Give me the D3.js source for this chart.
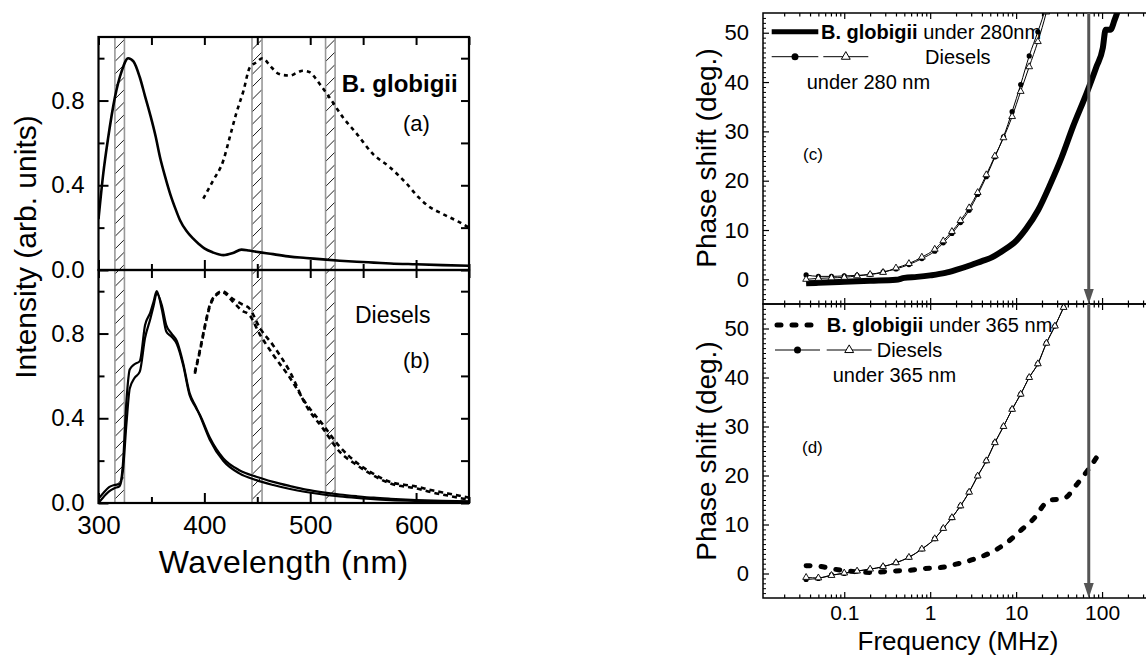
<!DOCTYPE html>
<html>
<head>
<meta charset="utf-8">
<script src="https://cdn.jsdelivr.net/npm/d3@7"></script>
<style>
  body { margin: 0; background: #fff; }
  svg { display: block; font-family: "Liberation Sans", Arial, sans-serif; }
</style>
</head>
<body>
<script>
'use strict';

// ---- (a) B. globigii spectra ----
var wlA = [300, 304.5, 309, 315.5, 322, 328, 333, 339, 344, 349, 354, 358, 363, 368, 373, 377, 383, 389, 395, 400, 408, 418, 427, 435, 442, 449, 465, 481, 496, 512, 528, 544, 560, 576, 600, 625, 650];
var intA = [0.24, 0.455, 0.62, 0.815, 0.94, 1.0, 0.985, 0.91, 0.82, 0.73, 0.63, 0.535, 0.44, 0.355, 0.285, 0.235, 0.185, 0.15, 0.122, 0.102, 0.083, 0.07, 0.08, 0.096, 0.092, 0.086, 0.075, 0.063, 0.057, 0.05, 0.044, 0.039, 0.035, 0.031, 0.027, 0.023, 0.02];
var wlAdash = [399, 408, 418, 424, 430, 437, 443, 449, 455, 462, 468, 475, 481, 487, 493, 500, 505, 509, 518, 531, 544, 559, 575, 591, 602, 612, 625, 640, 650];
var intAdash = [0.337, 0.42, 0.518, 0.627, 0.737, 0.847, 0.957, 0.98, 1.0, 0.965, 0.933, 0.92, 0.918, 0.93, 0.941, 0.933, 0.905, 0.878, 0.816, 0.72, 0.643, 0.549, 0.486, 0.408, 0.345, 0.3, 0.265, 0.228, 0.2];

// ---- (b) Diesels spectra ----
var wlB = [300, 305, 310, 315, 320, 323, 326.5, 329.5, 334, 339, 344, 349, 352, 355, 360, 364, 369, 374, 380, 386, 392, 396, 405, 418, 433, 449, 465, 481, 496, 512, 528, 544, 560, 576, 600, 625, 650];
var intB1 = [0.02, 0.05, 0.075, 0.085, 0.09, 0.18, 0.49, 0.63, 0.655, 0.67, 0.84, 0.9, 0.95, 1.0, 0.91, 0.81, 0.785, 0.75, 0.65, 0.51, 0.45, 0.414, 0.31, 0.21, 0.155, 0.124, 0.1, 0.08, 0.063, 0.05, 0.04, 0.032, 0.025, 0.02, 0.014, 0.01, 0.008];
var intB2 = [0.0, 0.03, 0.055, 0.07, 0.08, 0.15, 0.38, 0.54, 0.59, 0.62, 0.78, 0.87, 0.93, 0.99, 0.93, 0.84, 0.8, 0.765, 0.66, 0.52, 0.455, 0.41, 0.3, 0.198, 0.14, 0.108, 0.085, 0.066, 0.052, 0.04, 0.031, 0.024, 0.018, 0.014, 0.01, 0.007, 0.005];
var wlBdash = [391, 396, 400.5, 405, 411, 417, 427, 435, 443, 452, 465, 481, 496, 512, 528, 544, 559, 575, 600, 615, 630, 650];
var intBdash1 = [0.618, 0.728, 0.838, 0.932, 0.985, 1.0, 0.963, 0.94, 0.916, 0.83, 0.744, 0.618, 0.461, 0.352, 0.241, 0.179, 0.132, 0.093, 0.069, 0.05, 0.035, 0.015];
var intBdash2 = [0.61, 0.72, 0.83, 0.925, 0.98, 0.995, 0.95, 0.91, 0.885, 0.8, 0.7, 0.59, 0.47, 0.37, 0.265, 0.19, 0.14, 0.1, 0.078, 0.06, 0.045, 0.025];

// filter bands (nm)
var bands = [[315.5, 324.5], [445, 454.5], [514.5, 523.5]];
var wlTicks = [300, 400, 500, 600];
var wlMinor = [350, 450, 550, 650];
var intTicks = [0, 0.4, 0.8];
var intMinor = [0.2, 0.6, 1.0];

// ---- (c) phase shift under 280 nm ----
var freqBg280 = [0.036, 0.05, 0.1, 0.2, 0.4, 0.5, 0.7, 1.0, 1.5, 2, 3, 4, 5, 7, 10, 13, 18, 25, 34, 46, 66, 86, 102, 110, 125, 140, 160];
var phaseBg280 = [-0.8, -0.7, -0.5, -0.3, -0.1, 0.3, 0.5, 0.8, 1.3, 1.9, 2.9, 3.7, 4.3, 5.8, 7.8, 10.2, 14.0, 19.3, 24.8, 31.0, 37.7, 43.1, 46.9, 50.6, 50.6, 52.6, 55.5];
var freqDiesel = [0.036, 0.05, 0.071, 0.1, 0.141, 0.2, 0.283, 0.4, 0.566, 0.8, 1.13, 1.42, 1.79, 2.25, 2.84, 3.57, 4.5, 5.66, 7.13, 8.98, 11.3, 14.2, 17.9, 22.5, 28.3, 35.7];
var phaseD280a = [0.9, 0.6, 0.6, 0.7, 0.8, 1.0, 1.5, 2.1, 3.0, 4.2, 5.7, 7.4, 9.3, 11.5, 14.0, 17.2, 20.8, 24.8, 28.9, 34.0, 39.5, 45.3, 50.2, 55.5, 62, 70];
var phaseD280b = [0.0, 0.2, 0.3, 0.4, 0.7, 1.0, 1.4, 2.3, 3.2, 4.5, 6.1, 7.8, 9.7, 11.9, 14.5, 17.6, 21.2, 25.0, 28.7, 33.0, 38.1, 43.1, 48.2, 54.2, 62, 70];

// ---- (d) phase shift under 365 nm ----
var freqBg365 = [0.036, 0.05, 0.07, 0.1, 0.14, 0.22, 0.35, 0.53, 0.83, 1.3, 2.0, 3.2, 4.7, 7.8, 11.5, 17, 21, 25, 35, 52, 71, 100];
var phaseBg365 = [1.6, 1.5, 1.0, 0.6, 0.35, 0.2, 0.5, 0.6, 1.0, 1.2, 1.9, 2.9, 4.0, 6.3, 8.9, 11.7, 14.0, 15.0, 15.2, 18.4, 21.5, 25.4];
var phaseD365a = [-1.2, -1.0, -0.3, 0.0, 0.5, 0.86, 1.4, 2.2, 3.3, 5.0, 7.1, 9.2, 11.4, 13.8, 16.6, 19.9, 23.0, 26.7, 30.0, 33.5, 36.6, 40.0, 42.8, 47.0, 50.5, 54.3];
var phaseD365b = [-0.8, -0.9, -0.4, 0.1, 0.5, 0.9, 1.4, 2.2, 3.3, 5.0, 7.1, 9.2, 11.4, 13.8, 16.6, 19.9, 23.0, 26.7, 30.0, 33.5, 36.6, 40.0, 42.8, 47.0, 50.5, 54.3];

var freqTicks = [0.1, 1, 10, 100];
var freqTickLabels = ['0.1', '1', '10', '100'];
var phaseTicks = [0, 10, 20, 30, 40, 50];
var arrowFreq = 70;

// ---- layout ----
var W = 1146, H = 655;
var svg = d3.select('body').append('svg').attr('width', W).attr('height', H);
var defs = svg.append('defs');

// left panels
var xL = d3.scaleLinear().domain([300, 650]).range([98.5, 469]);
var yA = d3.scaleLinear().domain([0, 1.1]).range([270, 37]);
var yB = d3.scaleLinear().domain([0, 1.1]).range([503, 270]);
// right panels
var xR = d3.scaleLog().domain([0.01134, 1000]).range([763, 1188]);
var yC = d3.scaleLinear().domain([-5, 54]).range([304, 13]);
var yD = d3.scaleLinear().domain([-5, 55]).range([598, 304]);

function addClip(id, x0, y0, x1, y1) {
  defs.append('clipPath').attr('id', id).append('rect')
    .attr('x', x0).attr('y', y0).attr('width', x1 - x0).attr('height', y1 - y0);
}
addClip('clipA', xL(300), yA(1.1), xL(650), yA(0));
addClip('clipB', xL(300), yB(1.1), xL(650), yB(0));
addClip('clipC', 763, yC(54), W, yC(-5));
addClip('clipD', 763, yD(55), W, yD(-5));

function drawLine(g, xs, ys, xs_scale, ys_scale, width, dash, cap) {
  var line = d3.line()
    .x(function(d) { return xs_scale(d[0]); })
    .y(function(d) { return ys_scale(d[1]); })
    .curve(d3.curveMonotoneX);
  return g.append('path')
    .datum(d3.zip(xs, ys))
    .attr('d', line)
    .attr('fill', 'none')
    .attr('stroke', '#000')
    .attr('stroke-width', width)
    .attr('stroke-dasharray', dash || null)
    .attr('stroke-linecap', cap || 'butt')
    .attr('stroke-linejoin', 'round');
}

function text(g, x, y, str, size, anchor, weight) {
  return g.append('text').attr('x', x).attr('y', y).text(str)
    .attr('font-size', size).attr('text-anchor', anchor || 'start')
    .attr('font-weight', weight || 'normal').attr('fill', '#000');
}

function cleanAxis(g, width) {
  g.select('.domain').remove();
  g.selectAll('.tick line').attr('stroke', '#000').attr('stroke-width', width);
  g.attr('font-family', null);
}

// ---- hatched filter bands ----
var bandG = svg.append('g');
bands.forEach(function(b, i) {
  var x0 = xL(b[0]), x1 = xL(b[1]);
  var top = yA(1.1), bot = yB(0);
  defs.append('clipPath').attr('id', 'band' + i).append('rect')
    .attr('x', x0).attr('y', top).attr('width', x1 - x0).attr('height', bot - top);
  bandG.append('g').attr('clip-path', 'url(#band' + i + ')')
    .selectAll('line').data(d3.range(top - 10, bot + 10, 12.5)).enter().append('line')
    .attr('x1', x0).attr('x2', x1)
    .attr('y1', function(d) { return d + (x1 - x0); })
    .attr('y2', function(d) { return d; })
    .attr('stroke', '#000').attr('stroke-width', 0.9);
  bandG.append('rect').attr('x', x0).attr('y', top)
    .attr('width', x1 - x0).attr('height', bot - top)
    .attr('fill', 'none').attr('stroke', '#999').attr('stroke-width', 1.6);
});

// ---- spectra ----
var gA = svg.append('g').attr('clip-path', 'url(#clipA)');
drawLine(gA, wlA, intA, xL, yA, 2.6);
drawLine(gA, wlAdash, intAdash, xL, yA, 2.6, '4,4');

var gB = svg.append('g').attr('clip-path', 'url(#clipB)');
drawLine(gB, wlB, intB1, xL, yB, 2.2);
drawLine(gB, wlB, intB2, xL, yB, 2.2);
drawLine(gB, wlBdash, intBdash1, xL, yB, 2.6, '5,4');
drawLine(gB, wlBdash, intBdash2, xL, yB, 2.6, '5,4');

// left axes
function leftAxes(yS, top) {
  var yb = yS(0), yt = yS(1.1);
  var xa = svg.append('g').attr('transform', 'translate(0,' + yb + ')');
  xa.call(d3.axisBottom(xL).tickValues(wlTicks).tickSize(-10).tickFormat(top ? '' : d3.format('d')).tickPadding(13));
  cleanAxis(xa, 2);
  xa.selectAll('text').attr('font-size', 26).attr('fill', '#000');
  var xm = svg.append('g').attr('transform', 'translate(0,' + yb + ')');
  xm.call(d3.axisBottom(xL).tickValues(wlMinor).tickSize(-6).tickFormat(''));
  cleanAxis(xm, 2);
  var xt = svg.append('g').attr('transform', 'translate(0,' + yt + ')');
  xt.call(d3.axisTop(xL).tickValues(wlTicks.concat(wlMinor)).tickSize(-8).tickFormat(''));
  cleanAxis(xt, 2);

  var ya = svg.append('g').attr('transform', 'translate(' + xL(300) + ',0)');
  ya.call(d3.axisLeft(yS).tickValues(intTicks).tickSize(-10).tickPadding(14).tickFormat(d3.format('.1f')));
  cleanAxis(ya, 2);
  ya.selectAll('text').attr('font-size', 24).attr('fill', '#000');
  var ym = svg.append('g').attr('transform', 'translate(' + xL(300) + ',0)');
  ym.call(d3.axisLeft(yS).tickValues(intMinor).tickSize(-6).tickFormat(''));
  cleanAxis(ym, 2);
  var yr = svg.append('g').attr('transform', 'translate(' + xL(650) + ',0)');
  yr.call(d3.axisRight(yS).tickValues(intTicks.concat(intMinor)).tickSize(-8).tickFormat(''));
  cleanAxis(yr, 2);

  svg.append('rect').attr('x', xL(300)).attr('y', yt)
    .attr('width', xL(650) - xL(300)).attr('height', yb - yt)
    .attr('fill', 'none').attr('stroke', '#000').attr('stroke-width', 2.2);
}
leftAxes(yA, true);
leftAxes(yB, false);

text(svg, 341.7, 92, 'B. globigii', 24, 'start', 'bold');
text(svg, 403, 131, '(a)', 22);
text(svg, 355, 323, 'Diesels', 23);
text(svg, 403, 368, '(b)', 22);
text(svg, xL(475), 573, 'Wavelength (nm)', 32, 'middle').attr('letter-spacing', 0.5);
svg.append('text').attr('transform', 'translate(36,247) rotate(-90)')
  .attr('text-anchor', 'middle').attr('font-size', 30).text('Intensity (arb. units)');

// ---- right panels ----
var minorFreq = [];
[0.01, 0.1, 1, 10, 100].forEach(function(dec) {
  d3.range(2, 10).forEach(function(k) { minorFreq.push(dec * k); });
});
minorFreq = minorFreq.filter(function(f) { return f > xR.domain()[0]; });
var minorPhase = d3.range(-4, 55).filter(function(v) { return v % 10 !== 0; });

function rightAxes(yS, vmax, labels) {
  var yb = yS(-5), yt = yS(vmax);
  [[yb, d3.axisBottom], [yt, d3.axisTop]].forEach(function(p) {
    var g1 = svg.append('g').attr('transform', 'translate(0,' + p[0] + ')');
    g1.call(p[1](xR).tickValues(freqTicks).tickSize(-6).tickFormat(''));
    cleanAxis(g1, 1.2);
    var g2 = svg.append('g').attr('transform', 'translate(0,' + p[0] + ')');
    g2.call(p[1](xR).tickValues(minorFreq).tickSize(-3.5).tickFormat(''));
    cleanAxis(g2, 1.2);
  });
  if (labels) {
    var lg = svg.append('g').attr('transform', 'translate(0,' + yb + ')');
    lg.call(d3.axisBottom(xR).tickValues(freqTicks).tickSize(0).tickPadding(7)
      .tickFormat(function(d, i) { return freqTickLabels[i]; }));
    cleanAxis(lg, 0);
    lg.selectAll('text').attr('font-size', 21).attr('fill', '#000');
  }
  var ya = svg.append('g').attr('transform', 'translate(763,0)');
  ya.call(d3.axisLeft(yS).tickValues(phaseTicks).tickSize(-6).tickPadding(14).tickFormat(d3.format('d')));
  cleanAxis(ya, 1.2);
  ya.selectAll('text').attr('font-size', 22).attr('fill', '#000');
  var ym = svg.append('g').attr('transform', 'translate(763,0)');
  ym.call(d3.axisLeft(yS).tickValues(minorPhase.filter(function(v) { return v < vmax; })).tickSize(-3).tickFormat(''));
  cleanAxis(ym, 1);
  svg.append('rect').attr('x', 763).attr('y', yt)
    .attr('width', 1188 - 763).attr('height', yb - yt)
    .attr('fill', 'none').attr('stroke', '#000').attr('stroke-width', 1.5);
}

function diesel(g, ys, a, b) {
  drawLine(g, freqDiesel, a, xR, ys, 1);
  drawLine(g, freqDiesel, b, xR, ys, 1);
  g.append('g').selectAll('circle').data(d3.zip(freqDiesel, a)).enter().append('circle')
    .attr('cx', function(d) { return xR(d[0]); })
    .attr('cy', function(d) { return ys(d[1]); })
    .attr('r', 2.6).attr('fill', '#000');
  g.append('g').selectAll('path').data(d3.zip(freqDiesel, b)).enter().append('path')
    .attr('d', d3.symbol(d3.symbolTriangle, 20))
    .attr('transform', function(d) { return 'translate(' + xR(d[0]) + ',' + ys(d[1]) + ')'; })
    .attr('fill', '#fff').attr('stroke', '#000').attr('stroke-width', 0.9);
}

function arrow(yTop, yBot) {
  var ax = xR(arrowFreq);
  svg.append('line').attr('x1', ax).attr('x2', ax).attr('y1', yTop).attr('y2', yBot - 12)
    .attr('stroke', '#555').attr('stroke-width', 3);
  svg.append('path')
    .attr('d', 'M' + (ax - 5) + ',' + (yBot - 15) + 'L' + (ax + 5) + ',' + (yBot - 15) + 'L' + ax + ',' + yBot + 'Z')
    .attr('fill', '#555');
}

// legend helpers
function dieselKey(y, x1, x2, x3, x4) {
  svg.append('line').attr('x1', x1).attr('x2', x2).attr('y1', y).attr('y2', y).attr('stroke', '#000').attr('stroke-width', 1);
  svg.append('circle').attr('cx', (x1 + x2) / 2).attr('cy', y).attr('r', 3.5).attr('fill', '#000');
  svg.append('line').attr('x1', x3).attr('x2', x4).attr('y1', y).attr('y2', y).attr('stroke', '#000').attr('stroke-width', 1);
  svg.append('path').attr('d', d3.symbol(d3.symbolTriangle, 34))
    .attr('transform', 'translate(' + (x3 + x4) / 2 + ',' + y + ')')
    .attr('fill', '#fff').attr('stroke', '#000').attr('stroke-width', 1);
}
function bgText(x, y, rest) {
  var t = svg.append('text').attr('x', x).attr('y', y).attr('font-size', 20);
  t.append('tspan').attr('font-weight', 'bold').text('B. globigii');
  t.append('tspan').text(rest);
}

// (c)
svg.append('line').attr('x1', 771.7).attr('x2', 818.3).attr('y1', 31.7).attr('y2', 31.7)
  .attr('stroke', '#000').attr('stroke-width', 5);
bgText(821, 38.5, ' under 280nm');
dieselKey(56.7, 771.7, 818.3, 823.3, 868.3);
text(svg, 925, 63.5, 'Diesels', 20);
text(svg, 806.7, 88.5, 'under 280 nm', 20);
text(svg, 803, 160, '(c)', 17);

var gC = svg.append('g').attr('clip-path', 'url(#clipC)');
drawLine(gC, freqBg280, phaseBg280, xR, yC, 6);
diesel(gC, yC, phaseD280a, phaseD280b);
rightAxes(yC, 54, false);
arrow(yC(54), yC(-5));

// (d)
svg.append('line').attr('x1', 777).attr('x2', 815).attr('y1', 325).attr('y2', 325)
  .attr('stroke', '#000').attr('stroke-width', 5).attr('stroke-dasharray', '4,11').attr('stroke-linecap', 'round');
bgText(826.7, 332, ' under 365 nm');
dieselKey(350, 775, 820, 826.7, 871.7);
text(svg, 876.7, 357, 'Diesels', 20);
text(svg, 832.7, 382, 'under 365 nm', 20);
text(svg, 802, 453, '(d)', 17);

var gD = svg.append('g').attr('clip-path', 'url(#clipD)');
drawLine(gD, freqBg365, phaseBg365, xR, yD, 5, '4,11', 'round');
diesel(gD, yD, phaseD365a, phaseD365b);
rightAxes(yD, 55, true);
arrow(yD(55), yD(-5));

svg.append('text').attr('transform', 'translate(716,158) rotate(-90)')
  .attr('text-anchor', 'middle').attr('font-size', 28).text('Phase shift (deg.)');
svg.append('text').attr('transform', 'translate(716,451) rotate(-90)')
  .attr('text-anchor', 'middle').attr('font-size', 28).text('Phase shift (deg.)');
text(svg, 958, 650, 'Frequency (MHz)', 26, 'middle');
</script>
</body>
</html>
